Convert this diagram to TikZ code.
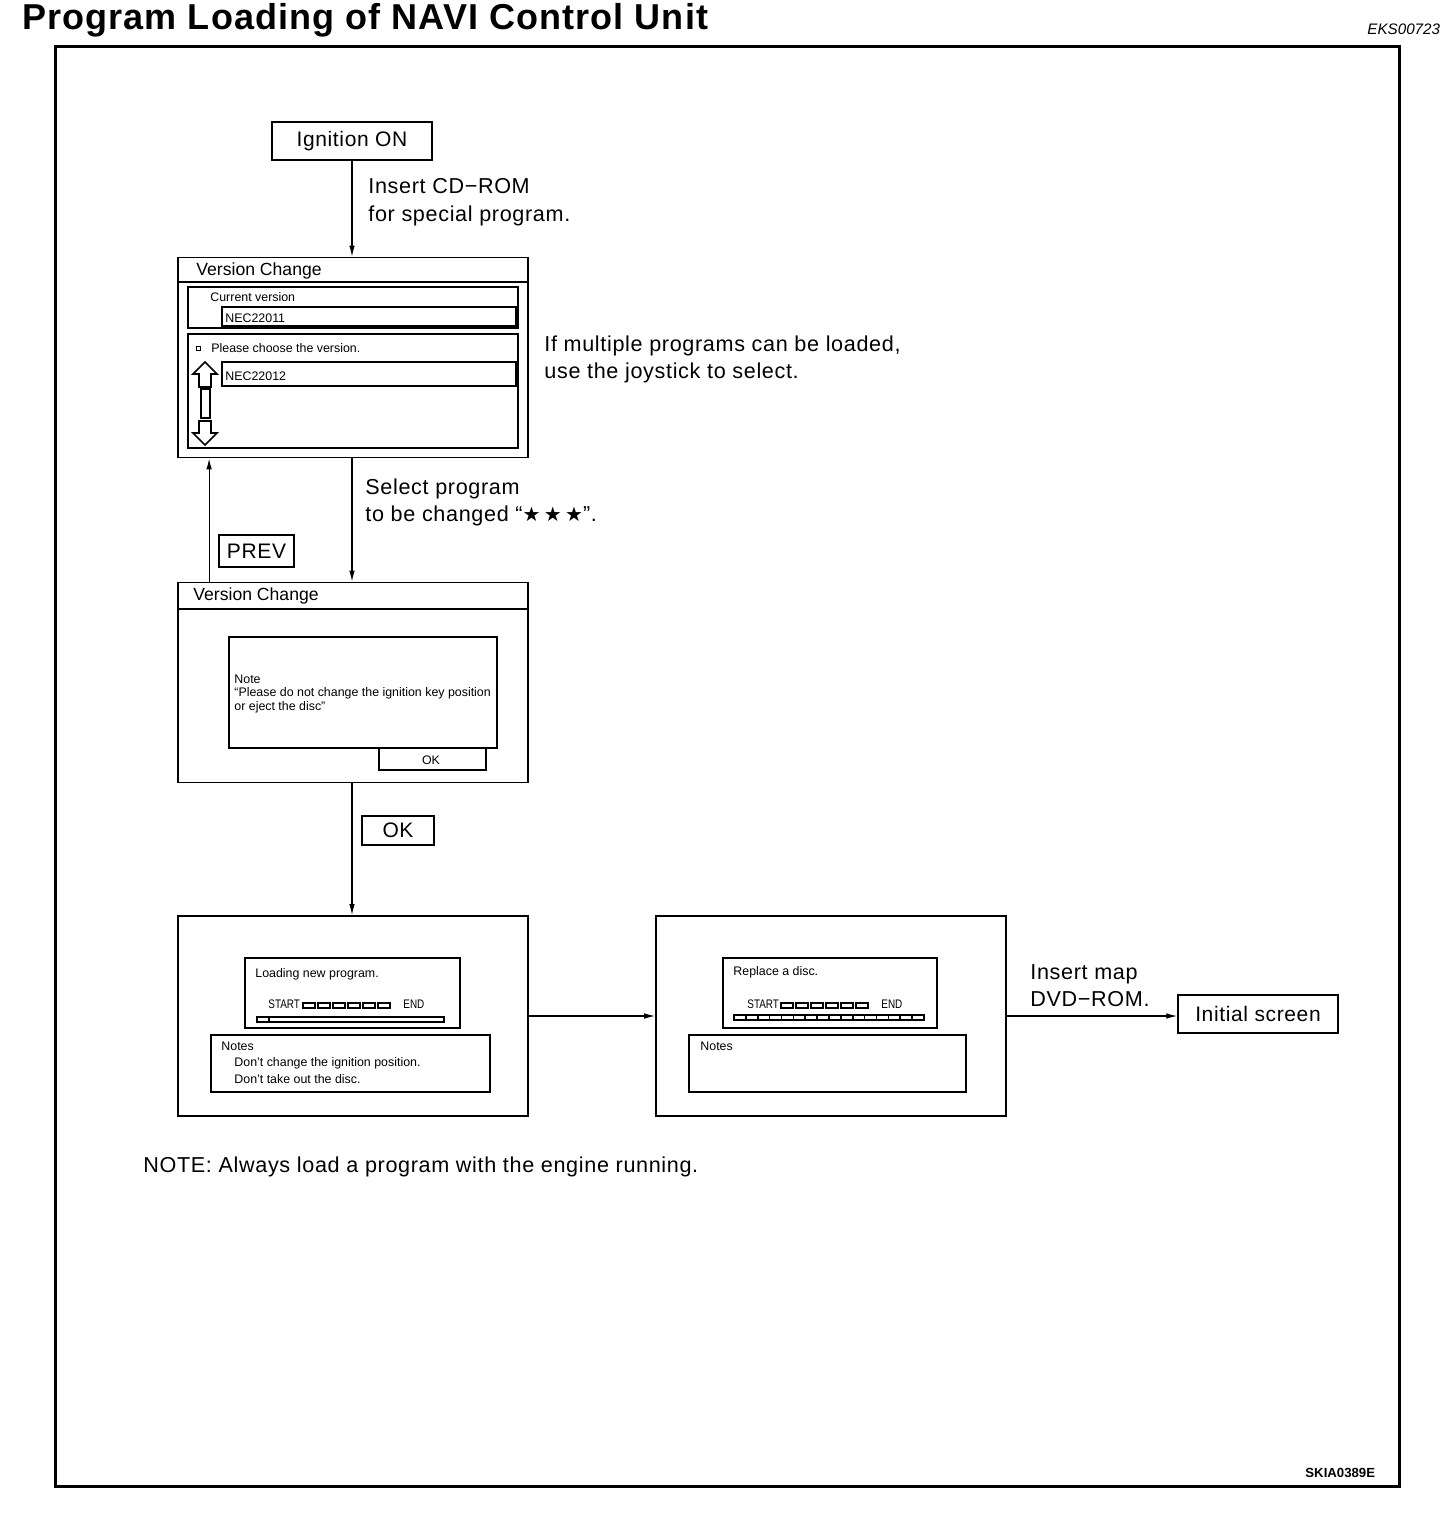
\documentclass[tikz,border=0pt]{standalone}
\usepackage{fontspec}
\setmainfont{Liberation Sans}
\newfontfamily\lblfont[LetterSpace=3]{Liberation Sans}
\newfontfamily\titlefont[LetterSpace=3]{Liberation Sans}
\newfontfamily\narrowfont[FakeStretch=0.8]{Liberation Sans}
\newfontfamily\symfont{DejaVu Sans}
\usetikzlibrary{arrows.meta,positioning,calc}

\begin{document}
\begin{tikzpicture}[x=0.5pt, y=-0.5pt,
    screen/.style={rectangle, draw, line width=0.9pt, minimum width=175pt, minimum height=100pt, inner sep=0pt},
    keybox/.style={rectangle, draw, line width=0.7pt, font=\lblfont\fontsize{10.5}{12}\selectfont, inner sep=0pt},
    panel/.style={draw, line width=0.9pt},
    lbl/.style={anchor=base west, align=left, inner sep=0pt, font=\lblfont\fontsize{10.8}{13.5}\selectfont},
    scr/.style={anchor=base west, align=left, inner sep=0pt, font=\fontsize{6.2}{6.75}\selectfont},
    bar/.style={anchor=base west, inner sep=0pt, font=\narrowfont\fontsize{6.2}{7}\selectfont},
    vctitle/.style={anchor=base west, inner sep=0pt, font=\fontsize{8.8}{10}\selectfont},
    arrow/.style={->, >={Latex[length=5.5pt,width=2.8pt]}, line width=0.6pt}
]
\useasboundingbox (0,0) rectangle (1440,1514);

% Heading and frame
\node[anchor=base west, inner sep=0pt, font=\titlefont\bfseries\fontsize{18}{20}\selectfont] (title) at (22,30) {Program Loading of NAVI Control Unit};
\node[anchor=base west, inner sep=0pt, font=\itshape\fontsize{7.6}{8}\selectfont] (code) at (1367,35) {EKS00723};
\draw[line width=1.5pt] (55,47) rectangle (1399,1486);

% Flow boxes
\node[keybox, minimum width=80pt, minimum height=19pt] (ign) at (352,141) {Ignition ON};
\node[screen] (vc1) at (353,357.5) {};
\node[screen] (vc2) at (353,682.5) {};
\node[screen] (load) at (353,1016) {};
\node[screen] (repl) at (831,1016) {};
\node[keybox, minimum width=80pt, minimum height=19pt] (init) at (1258,1014) {Initial screen};
\node[keybox, minimum width=37.5pt, minimum height=16pt] (prev) at (256.5,551) {PREV};
\node[keybox, minimum width=36pt, minimum height=14.5pt] (ok) at (398,830.5) {OK};

% Arrows
\draw[arrow] (ign) -- (ign |- vc1.north);
\draw[arrow] (vc1.south -| ign) -- (vc2.north -| ign);
\draw[arrow] ([xshift=16pt]vc2.north west) -- ([xshift=16pt]vc1.south west);
\draw[arrow] (vc2.south -| ign) -- (load.north -| ign);
\draw[arrow] (load.east) -- (repl.west);
\draw[arrow] (repl.east) -- (repl.east -| init.west);

% Labels (anchored at the baseline of their last line)
\node[lbl] (cdlbl) at (368,221) {Insert CD−ROM\\for special program.};
\node[lbl] (multilbl) at (544,378) {If multiple programs can be loaded,\\use the joystick to select.};
\node[lbl] (sellbl) at (365,521) {Select program\\to be changed “{\symfont\fontsize{10}{10}\selectfont ★\,★\,★}”.};
\node[lbl] (maplbl) at (1030,1006) {Insert map\\DVD−ROM.};
\node[lbl] (notelbl) at (143,1172) {NOTE: Always load a program with the engine running.};
\node[anchor=base west, inner sep=0pt, font=\bfseries\fontsize{6.6}{7}\selectfont] (fig) at (1305,1477) {SKIA0389E};

% Version change screen 1
\draw[line width=0.9pt] (178,282) -- (528,282);
\node[vctitle] (vc1t) at (196,276) {Version Change};
\draw[panel] (188,287) rectangle (518,328);
\node[scr] (cur) at (210,301) {Current version};
\draw[panel] (222,307) rectangle (516,326);
\node[scr] (v1) at (225,322) {NEC22011};
\draw[panel] (188,334) rectangle (518,448);
\draw[line width=0.9pt] (196.5,346.5) rectangle (200.5,350.5);
\node[scr] (choose) at (211,352) {Please choose the version.};
\draw[panel] (222,362) rectangle (516,386);
\node[scr] (v2) at (225,380) {NEC22012};
\draw[line width=0.8pt] (205,362) -- (217,374) -- (211,374) -- (211,387) -- (199,387) -- (199,374) -- (193,374) -- cycle;
\draw[line width=0.8pt] (201,389) rectangle (210,418);
\draw[line width=0.8pt] (199,421) -- (211,421) -- (211,433) -- (217,433) -- (205,445) -- (193,433) -- (199,433) -- cycle;

% Version change screen 2
\draw[line width=0.9pt] (178,609) -- (528,609);
\node[vctitle] (vc2t) at (193,600) {Version Change};
\draw[panel] (229,637) rectangle (497,748);
\node[scr] (notetxt) at (234,710) {Note\\“Please do not change the ignition key position\\or eject the disc”};
\draw[panel] (379,748) rectangle (486,770);
\node[inner sep=0pt, font=\fontsize{6.2}{7}\selectfont] (okbtn) at (431,760) {OK};

% Loading screen
\draw[panel] (245,958) rectangle (460,1028);
\node[scr] (loadtxt) at (255,977) {Loading new program.};
\node[bar] (st1) at (268,1008) {START};
\foreach \i in {0,...,5}
    \draw[line width=0.8pt] (303+\i*15,1003) rectangle ++(12,5);
\node[bar] (en1) at (403,1008) {END};
\draw[line width=0.8pt] (257,1017) rectangle (444,1022);
\draw[line width=0.8pt] (269,1017) -- (269,1022);
\draw[panel] (211,1035) rectangle (490,1092);
\node[scr] (notes1) at (221,1050) {Notes};
\node[scr, font=\fontsize{6.2}{8.25}\selectfont] (notes1txt) at (234,1083) {Don’t change the ignition position.\\Don’t take out the disc.};

% Replace screen
\draw[panel] (723,958) rectangle (937,1028);
\node[scr] (repltxt) at (733,975) {Replace a disc.};
\node[bar] (st2) at (747,1008) {START};
\foreach \i in {0,...,5}
    \draw[line width=0.8pt] (781+\i*15,1003) rectangle ++(12,5);
\node[bar] (en2) at (881,1008) {END};
\draw[line width=0.8pt] (734,1015) rectangle (924,1020);
\foreach \i in {1,...,15}
    \draw[line width=0.8pt] (734+\i*11.875,1015) -- ++(0,5);
\draw[panel] (689,1035) rectangle (966,1092);
\node[scr] (notes2) at (700,1050) {Notes};

\end{tikzpicture}
\end{document}
